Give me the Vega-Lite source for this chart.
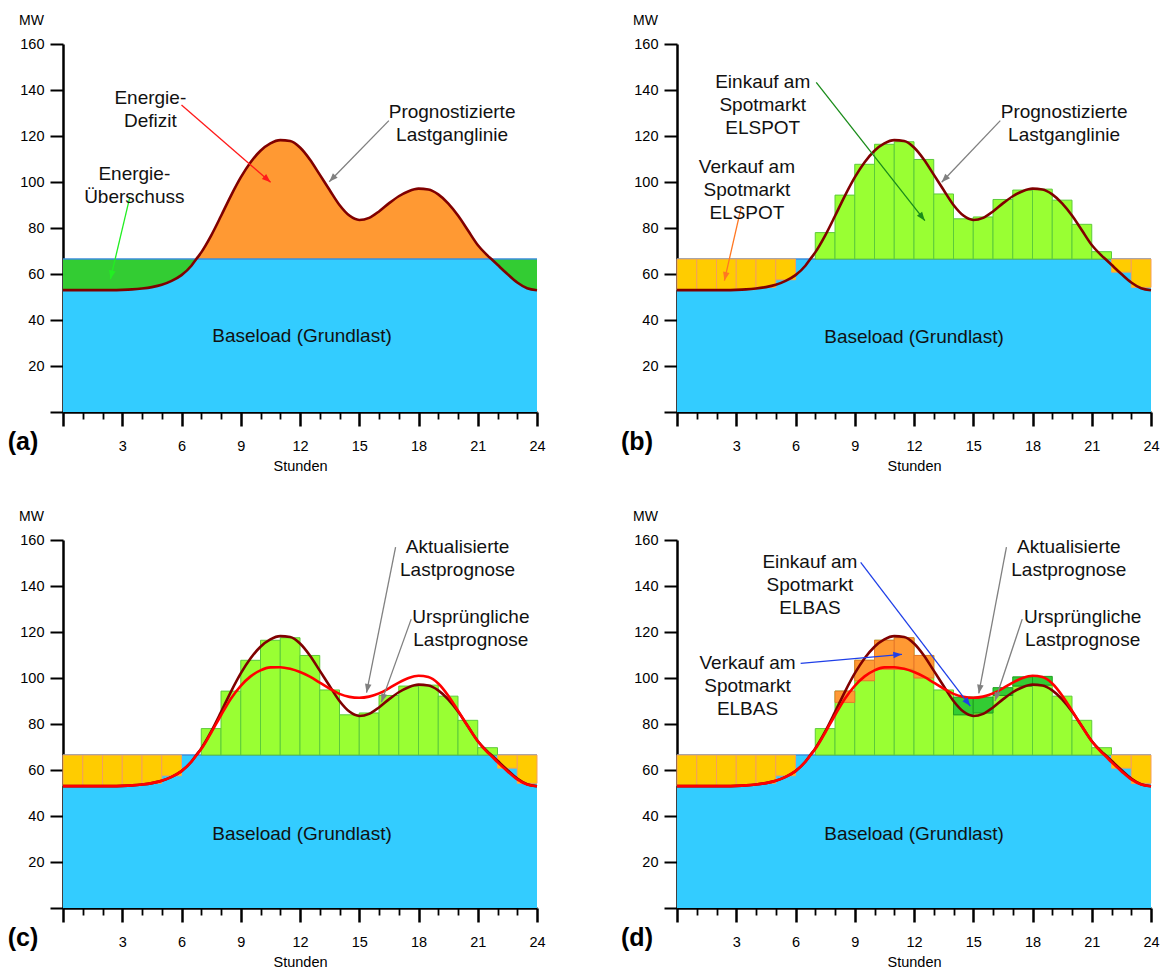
{
  "$schema": "https://vega.github.io/schema/vega-lite/v6.json",
  "padding": {"left": 7, "top": 13, "right": 2, "bottom": 2},
  "background": "white",
  "config": {
    "view": {"stroke": null},
    "font": "Liberation Sans",
    "axis": {"domainColor": "#000", "domainWidth": 2.5, "tickColor": "#000", "labelColor": "#000", "titleColor": "#000", "labelFont": "Liberation Sans", "titleFont": "Liberation Sans", "labelFontSize": 14.5, "titleFontSize": 14.5, "titleFontWeight": "normal", "labelFlush": false, "labelOverlap": false, "labelBound": false, "zindex": 1, "grid": false},
    "axisX": {"labelPadding": 13, "titlePadding": 7},
    "axisY": {"labelPadding": 6, "tickSize": 13, "tickWidth": 2, "titleAngle": 0, "titleX": -32, "titleY": -24, "titleAlign": "center", "titleBaseline": "middle", "titleFontSize": 14}
  },
  "datasets": {
    "base": [{"x0": 0, "x1": 24, "level": 66.5}],
    "curve": [
      {"h": 0, "orig": 53, "upd": 53}, {"h": 0.5, "orig": 53, "upd": 53}, {"h": 1, "orig": 53, "upd": 53}, {"h": 1.5, "orig": 53, "upd": 53},
      {"h": 2, "orig": 53, "upd": 53}, {"h": 2.5, "orig": 53, "upd": 53}, {"h": 3, "orig": 53.1, "upd": 53.1}, {"h": 3.5, "orig": 53.3, "upd": 53.3},
      {"h": 4, "orig": 53.7, "upd": 53.7}, {"h": 4.5, "orig": 54.3, "upd": 54.3}, {"h": 5, "orig": 55.3, "upd": 55.3}, {"h": 5.5, "orig": 57, "upd": 57},
      {"h": 6, "orig": 59.5, "upd": 59.5}, {"h": 6.5, "orig": 63.6, "upd": 63.6}, {"h": 6.75, "orig": 66.5, "upd": 66.3}, {"h": 7, "orig": 69.4, "upd": 69.1},
      {"h": 7.5, "orig": 76.7, "upd": 76.2}, {"h": 8, "orig": 85.2, "upd": 83.8}, {"h": 8.5, "orig": 94, "upd": 91}, {"h": 9, "orig": 102, "upd": 96.6},
      {"h": 9.5, "orig": 108.6, "upd": 100.7}, {"h": 10, "orig": 113.6, "upd": 103.3}, {"h": 10.5, "orig": 116.8, "upd": 104.6}, {"h": 11, "orig": 118.2, "upd": 104.7},
      {"h": 11.5, "orig": 117.8, "upd": 104}, {"h": 12, "orig": 115, "upd": 102.6}, {"h": 12.5, "orig": 109.8, "upd": 100.6}, {"h": 13, "orig": 103.2, "upd": 98},
      {"h": 13.5, "orig": 96.5, "upd": 95.4}, {"h": 14, "orig": 90, "upd": 93.1}, {"h": 14.5, "orig": 85.4, "upd": 91.8}, {"h": 15, "orig": 83.5, "upd": 91.4},
      {"h": 15.5, "orig": 84.4, "upd": 91.9}, {"h": 16, "orig": 87.2, "upd": 93.3}, {"h": 16.5, "orig": 90.7, "upd": 95.5}, {"h": 17, "orig": 93.8, "upd": 98},
      {"h": 17.5, "orig": 96, "upd": 100}, {"h": 18, "orig": 97.1, "upd": 101}, {"h": 18.5, "orig": 96.7, "upd": 100.4}, {"h": 19, "orig": 94.6, "upd": 97.6},
      {"h": 19.5, "orig": 90.7, "upd": 92.4}, {"h": 20, "orig": 85.4, "upd": 85.8}, {"h": 20.5, "orig": 79, "upd": 79}, {"h": 21, "orig": 72.6, "upd": 72.5},
      {"h": 21.5, "orig": 68, "upd": 67.6}, {"h": 21.69, "orig": 66.5, "upd": 66.1}, {"h": 22, "orig": 64, "upd": 63.4}, {"h": 22.5, "orig": 60, "upd": 59.5},
      {"h": 23, "orig": 56.3, "upd": 55.9}, {"h": 23.5, "orig": 53.8, "upd": 53.7}, {"h": 24, "orig": 52.9, "upd": 52.9}
    ],
    "hourly": [
      {"h": 0, "h1": 1, "orig": 53, "upd": 53}, {"h": 1, "h1": 2, "orig": 53, "upd": 53}, {"h": 2, "h1": 3, "orig": 53, "upd": 53},
      {"h": 3, "h1": 4, "orig": 53.2, "upd": 53.2}, {"h": 4, "h1": 5, "orig": 54.2, "upd": 54.2}, {"h": 5, "h1": 6, "orig": 57.5, "upd": 57.5},
      {"h": 6, "h1": 7, "orig": 66.5, "upd": 66.5}, {"h": 7, "h1": 8, "orig": 78, "upd": 78}, {"h": 8, "h1": 9, "orig": 94.3, "upd": 89.4},
      {"h": 9, "h1": 10, "orig": 107.7, "upd": 98.8}, {"h": 10, "h1": 11, "orig": 116.4, "upd": 103.8}, {"h": 11, "h1": 12, "orig": 117.5, "upd": 103.8},
      {"h": 12, "h1": 13, "orig": 109.8, "upd": 100}, {"h": 13, "h1": 14, "orig": 94.8, "upd": 94.8}, {"h": 14, "h1": 15, "orig": 84, "upd": 91.7},
      {"h": 15, "h1": 16, "orig": 84.8, "upd": 91.7}, {"h": 16, "h1": 17, "orig": 92.4, "upd": 95.8}, {"h": 17, "h1": 18, "orig": 96.5, "upd": 100.5},
      {"h": 18, "h1": 19, "orig": 96.9, "upd": 100.7}, {"h": 19, "h1": 20, "orig": 92.1, "upd": 92.1}, {"h": 20, "h1": 21, "orig": 81.6, "upd": 81.6},
      {"h": 21, "h1": 22, "orig": 69.7, "upd": 69.7}, {"h": 22, "h1": 23, "orig": 60.8, "upd": 60.8}, {"h": 23, "h1": 24, "orig": 54.2, "upd": 54.2}
    ],
    "notes": [
      {"panel": "a", "h": 4.42, "v": 136.7, "text": "Energie-\nDefizit"},
      {"panel": "a", "h": 3.61, "v": 103.5, "text": "Energie-\nÜberschuss"},
      {"panel": "a", "h": 19.7, "v": 130.3, "text": "Prognostizierte\nLastganglinie"},
      {"panel": "a", "h": 12.1, "v": 33.2, "text": "Baseload (Grundlast)"},
      {"panel": "b", "h": 4.34, "v": 143.3, "text": "Einkauf am\nSpotmarkt\nELSPOT"},
      {"panel": "b", "h": 3.54, "v": 106.4, "text": "Verkauf am\nSpotmarkt\nELSPOT"},
      {"panel": "b", "h": 19.6, "v": 130.3, "text": "Prognostizierte\nLastganglinie"},
      {"panel": "b", "h": 12, "v": 32.5, "text": "Baseload (Grundlast)"},
      {"panel": "c", "h": 19.98, "v": 157, "text": "Aktualisierte\nLastprognose"},
      {"panel": "c", "h": 20.65, "v": 126.5, "text": "Ursprüngliche\nLastprognose"},
      {"panel": "c", "h": 12.1, "v": 32.3, "text": "Baseload (Grundlast)"},
      {"panel": "d", "h": 6.73, "v": 150.3, "text": "Einkauf am\nSpotmarkt\nELBAS"},
      {"panel": "d", "h": 3.57, "v": 106.4, "text": "Verkauf am\nSpotmarkt\nELBAS"},
      {"panel": "d", "h": 19.84, "v": 157, "text": "Aktualisierte\nLastprognose"},
      {"panel": "d", "h": 20.54, "v": 126.5, "text": "Ursprüngliche\nLastprognose"},
      {"panel": "d", "h": 12, "v": 32.3, "text": "Baseload (Grundlast)"}
    ],
    "arrows": [
      {"panel": "a", "kind": "Defizit", "h1": 6.0, "v1": 133.5, "h2": 10.51, "v2": 99.9},
      {"panel": "a", "kind": "Überschuss", "h1": 3.38, "v1": 93.3, "h2": 2.4, "v2": 57.8},
      {"panel": "a", "kind": "Prognose", "h1": 16.5, "v1": 126.7, "h2": 13.48, "v2": 100.1},
      {"panel": "b", "kind": "Einkauf", "h1": 7.05, "v1": 143.3, "h2": 12.55, "v2": 83.2},
      {"panel": "b", "kind": "Verkauf", "h1": 3.25, "v1": 89, "h2": 2.4, "v2": 57.1},
      {"panel": "b", "kind": "Prognose", "h1": 16.37, "v1": 126.7, "h2": 13.4, "v2": 99.9},
      {"panel": "c", "kind": "Prognose", "h1": 16.84, "v1": 156.9, "h2": 15.37, "v2": 93.6},
      {"panel": "c", "kind": "Prognose", "h1": 17.63, "v1": 125.6, "h2": 16.12, "v2": 89.5},
      {"panel": "d", "kind": "ELBAS", "h1": 9.3, "v1": 150.3, "h2": 14.85, "v2": 87.8},
      {"panel": "d", "kind": "ELBAS", "h1": 6.26, "v1": 106.4, "h2": 11.39, "v2": 110.3},
      {"panel": "d", "kind": "Prognose", "h1": 16.68, "v1": 156.9, "h2": 15.28, "v2": 93.3},
      {"panel": "d", "kind": "Prognose", "h1": 17.48, "v1": 125.6, "h2": 16.1, "v2": 90}
    ]
  },
  "columns": 2,
  "spacing": {"row": 128, "column": 140},
  "bounds": "flush",
  "concat": [
    {
      "width": 474, "height": 368,
      "layer": [
        {"data": {"name": "base"}, "mark": {"type": "rect", "fill": "#33CCFF"},
         "encoding": {
           "x": {"field": "x0", "type": "quantitative", "scale": {"domain": [0, 24], "nice": false, "zero": false}, "axis": {"values": [0,1,2,3,4,5,6,7,8,9,10,11,12,13,14,15,16,17,18,19,20,21,22,23,24], "tickCount": 25, "title": "Stunden", "labelOverlap": false, "labelOpacity": {"condition": {"test": "datum.value % 3 === 0 && datum.value > 0", "value": 1}, "value": 0}, "tickSize": {"condition": {"test": "datum.value % 3 === 0", "value": 14}, "value": 7}, "tickWidth": {"condition": {"test": "datum.value % 3 === 0", "value": 2.5}, "value": 1.8}}},
           "x2": {"field": "x1"},
           "y": {"field": "level", "type": "quantitative", "scale": {"domain": [0, 160], "nice": false}, "axis": {"values": [0,20,40,60,80,100,120,140,160], "tickCount": 10, "title": "MW", "labelOverlap": false, "labelOpacity": {"condition": {"test": "datum.value > 0", "value": 1}, "value": 0}}},
           "y2": {"datum": 0}}},
        {"data": {"name": "curve"}, "transform": [{"filter": "datum.h <= 6.75"}], "mark": {"type": "area", "fill": "#33CC33", "interpolate": "monotone"},
         "encoding": {"x": {"field": "h", "type": "quantitative", "scale": {"domain": [0, 24], "nice": false, "zero": false}, "axis": {"values": [0,1,2,3,4,5,6,7,8,9,10,11,12,13,14,15,16,17,18,19,20,21,22,23,24], "tickCount": 25, "title": "Stunden", "labelOverlap": false, "labelOpacity": {"condition": {"test": "datum.value % 3 === 0 && datum.value > 0", "value": 1}, "value": 0}, "tickSize": {"condition": {"test": "datum.value % 3 === 0", "value": 14}, "value": 7}, "tickWidth": {"condition": {"test": "datum.value % 3 === 0", "value": 2.5}, "value": 1.8}}},
                      "y": {"field": "orig", "type": "quantitative", "scale": {"domain": [0, 160], "nice": false}, "axis": {"values": [0,20,40,60,80,100,120,140,160], "tickCount": 10, "title": "MW", "labelOverlap": false, "labelOpacity": {"condition": {"test": "datum.value > 0", "value": 1}, "value": 0}}}, "y2": {"datum": 66.5}}},
        {"data": {"name": "curve"}, "transform": [{"filter": "datum.h >= 21.69"}], "mark": {"type": "area", "fill": "#33CC33", "interpolate": "monotone"},
         "encoding": {"x": {"field": "h", "type": "quantitative", "scale": {"domain": [0, 24], "nice": false, "zero": false}, "axis": {"values": [0,1,2,3,4,5,6,7,8,9,10,11,12,13,14,15,16,17,18,19,20,21,22,23,24], "tickCount": 25, "title": "Stunden", "labelOverlap": false, "labelOpacity": {"condition": {"test": "datum.value % 3 === 0 && datum.value > 0", "value": 1}, "value": 0}, "tickSize": {"condition": {"test": "datum.value % 3 === 0", "value": 14}, "value": 7}, "tickWidth": {"condition": {"test": "datum.value % 3 === 0", "value": 2.5}, "value": 1.8}}},
                      "y": {"field": "orig", "type": "quantitative", "scale": {"domain": [0, 160], "nice": false}, "axis": {"values": [0,20,40,60,80,100,120,140,160], "tickCount": 10, "title": "MW", "labelOverlap": false, "labelOpacity": {"condition": {"test": "datum.value > 0", "value": 1}, "value": 0}}}, "y2": {"datum": 66.5}}},
        {"data": {"name": "curve"}, "transform": [{"filter": "datum.h >= 6.75 && datum.h <= 21.69"}], "mark": {"type": "area", "fill": "#FF9933", "interpolate": "monotone"},
         "encoding": {"x": {"field": "h", "type": "quantitative", "scale": {"domain": [0, 24], "nice": false, "zero": false}, "axis": {"values": [0,1,2,3,4,5,6,7,8,9,10,11,12,13,14,15,16,17,18,19,20,21,22,23,24], "tickCount": 25, "title": "Stunden", "labelOverlap": false, "labelOpacity": {"condition": {"test": "datum.value % 3 === 0 && datum.value > 0", "value": 1}, "value": 0}, "tickSize": {"condition": {"test": "datum.value % 3 === 0", "value": 14}, "value": 7}, "tickWidth": {"condition": {"test": "datum.value % 3 === 0", "value": 2.5}, "value": 1.8}}},
                      "y": {"field": "orig", "type": "quantitative", "scale": {"domain": [0, 160], "nice": false}, "axis": {"values": [0,20,40,60,80,100,120,140,160], "tickCount": 10, "title": "MW", "labelOverlap": false, "labelOpacity": {"condition": {"test": "datum.value > 0", "value": 1}, "value": 0}}}, "y2": {"datum": 66.5}}},
        {"data": {"name": "base"}, "mark": {"type": "rule", "color": "#3D8EDB", "strokeWidth": 1.5},
         "encoding": {"x": {"field": "x0", "type": "quantitative", "scale": {"domain": [0, 24], "nice": false, "zero": false}, "axis": {"values": [0,1,2,3,4,5,6,7,8,9,10,11,12,13,14,15,16,17,18,19,20,21,22,23,24], "tickCount": 25, "title": "Stunden", "labelOverlap": false, "labelOpacity": {"condition": {"test": "datum.value % 3 === 0 && datum.value > 0", "value": 1}, "value": 0}, "tickSize": {"condition": {"test": "datum.value % 3 === 0", "value": 14}, "value": 7}, "tickWidth": {"condition": {"test": "datum.value % 3 === 0", "value": 2.5}, "value": 1.8}}}, "x2": {"field": "x1"},
                      "y": {"field": "level", "type": "quantitative", "scale": {"domain": [0, 160], "nice": false}, "axis": {"values": [0,20,40,60,80,100,120,140,160], "tickCount": 10, "title": "MW", "labelOverlap": false, "labelOpacity": {"condition": {"test": "datum.value > 0", "value": 1}, "value": 0}}}}},
        {"data": {"name": "curve"}, "mark": {"type": "line", "color": "#800000", "strokeWidth": 2.6, "interpolate": "monotone"},
         "encoding": {"x": {"field": "h", "type": "quantitative", "scale": {"domain": [0, 24], "nice": false, "zero": false}, "axis": {"values": [0,1,2,3,4,5,6,7,8,9,10,11,12,13,14,15,16,17,18,19,20,21,22,23,24], "tickCount": 25, "title": "Stunden", "labelOverlap": false, "labelOpacity": {"condition": {"test": "datum.value % 3 === 0 && datum.value > 0", "value": 1}, "value": 0}, "tickSize": {"condition": {"test": "datum.value % 3 === 0", "value": 14}, "value": 7}, "tickWidth": {"condition": {"test": "datum.value % 3 === 0", "value": 2.5}, "value": 1.8}}},
                      "y": {"field": "orig", "type": "quantitative", "scale": {"domain": [0, 160], "nice": false}, "axis": {"values": [0,20,40,60,80,100,120,140,160], "tickCount": 10, "title": "MW", "labelOverlap": false, "labelOpacity": {"condition": {"test": "datum.value > 0", "value": 1}, "value": 0}}}}},
        {"data": {"name": "arrows"}, "transform": [{"filter": "datum.panel === 'a'"}], "mark": {"type": "rule", "strokeWidth": 1.3},
         "encoding": {"x": {"field": "h1", "type": "quantitative", "scale": {"domain": [0, 24], "nice": false, "zero": false}, "axis": {"values": [0,1,2,3,4,5,6,7,8,9,10,11,12,13,14,15,16,17,18,19,20,21,22,23,24], "tickCount": 25, "title": "Stunden", "labelOverlap": false, "labelOpacity": {"condition": {"test": "datum.value % 3 === 0 && datum.value > 0", "value": 1}, "value": 0}, "tickSize": {"condition": {"test": "datum.value % 3 === 0", "value": 14}, "value": 7}, "tickWidth": {"condition": {"test": "datum.value % 3 === 0", "value": 2.5}, "value": 1.8}}}, "x2": {"field": "h2"},
                      "y": {"field": "v1", "type": "quantitative", "scale": {"domain": [0, 160], "nice": false}, "axis": {"values": [0,20,40,60,80,100,120,140,160], "tickCount": 10, "title": "MW", "labelOverlap": false, "labelOpacity": {"condition": {"test": "datum.value > 0", "value": 1}, "value": 0}}}, "y2": {"field": "v2"},
                      "color": {"field": "kind", "type": "nominal", "legend": null, "scale": {"domain": ["Defizit", "Überschuss", "Prognose", "Einkauf", "Verkauf", "ELBAS"], "range": ["#FF1A1A", "#22EE22", "#808080", "#1A8C1A", "#FF7722", "#1F3FE8"]}}}},
        {"data": {"name": "arrows"}, "transform": [{"filter": "datum.panel === 'a'"}, {"calculate": "atan2((datum.h2 - datum.h1) * 19.75, (datum.v2 - datum.v1) * 2.3) * 180 / PI", "as": "angle"}],
         "mark": {"type": "point", "shape": "M0,0L-0.38,1L0.38,1Z", "filled": true, "size": 300, "opacity": 1},
         "encoding": {"x": {"field": "h2", "type": "quantitative", "scale": {"domain": [0, 24], "nice": false, "zero": false}, "axis": {"values": [0,1,2,3,4,5,6,7,8,9,10,11,12,13,14,15,16,17,18,19,20,21,22,23,24], "tickCount": 25, "title": "Stunden", "labelOverlap": false, "labelOpacity": {"condition": {"test": "datum.value % 3 === 0 && datum.value > 0", "value": 1}, "value": 0}, "tickSize": {"condition": {"test": "datum.value % 3 === 0", "value": 14}, "value": 7}, "tickWidth": {"condition": {"test": "datum.value % 3 === 0", "value": 2.5}, "value": 1.8}}},
                      "y": {"field": "v2", "type": "quantitative", "scale": {"domain": [0, 160], "nice": false}, "axis": {"values": [0,20,40,60,80,100,120,140,160], "tickCount": 10, "title": "MW", "labelOverlap": false, "labelOpacity": {"condition": {"test": "datum.value > 0", "value": 1}, "value": 0}}},
                      "angle": {"field": "angle", "type": "quantitative", "scale": null},
                      "color": {"field": "kind", "type": "nominal", "legend": null, "scale": {"domain": ["Defizit", "Überschuss", "Prognose", "Einkauf", "Verkauf", "ELBAS"], "range": ["#FF1A1A", "#22EE22", "#808080", "#1A8C1A", "#FF7722", "#1F3FE8"]}}}},
        {"data": {"name": "notes"}, "transform": [{"filter": "datum.panel === 'a'"}],
         "mark": {"type": "text", "font": "Liberation Sans", "fontSize": 19, "lineHeight": 23, "lineBreak": "\n", "align": "center", "baseline": "middle", "color": "#111"},
         "encoding": {"x": {"field": "h", "type": "quantitative", "scale": {"domain": [0, 24], "nice": false, "zero": false}, "axis": {"values": [0,1,2,3,4,5,6,7,8,9,10,11,12,13,14,15,16,17,18,19,20,21,22,23,24], "tickCount": 25, "title": "Stunden", "labelOverlap": false, "labelOpacity": {"condition": {"test": "datum.value % 3 === 0 && datum.value > 0", "value": 1}, "value": 0}, "tickSize": {"condition": {"test": "datum.value % 3 === 0", "value": 14}, "value": 7}, "tickWidth": {"condition": {"test": "datum.value % 3 === 0", "value": 2.5}, "value": 1.8}}},
                      "y": {"field": "v", "type": "quantitative", "scale": {"domain": [0, 160], "nice": false}, "axis": {"values": [0,20,40,60,80,100,120,140,160], "tickCount": 10, "title": "MW", "labelOverlap": false, "labelOpacity": {"condition": {"test": "datum.value > 0", "value": 1}, "value": 0}}}, "text": {"field": "text"}}},
        {"data": {"values": [{"label": "(a)"}]},
         "mark": {"type": "text", "font": "Liberation Sans", "fontSize": 25, "fontWeight": "bold", "dx": -40, "dy": 30, "align": "center", "baseline": "middle", "color": "#000"},
         "encoding": {"x": {"datum": 0, "type": "quantitative", "scale": {"domain": [0, 24], "nice": false, "zero": false}, "axis": {"values": [0,1,2,3,4,5,6,7,8,9,10,11,12,13,14,15,16,17,18,19,20,21,22,23,24], "tickCount": 25, "title": "Stunden", "labelOverlap": false, "labelOpacity": {"condition": {"test": "datum.value % 3 === 0 && datum.value > 0", "value": 1}, "value": 0}, "tickSize": {"condition": {"test": "datum.value % 3 === 0", "value": 14}, "value": 7}, "tickWidth": {"condition": {"test": "datum.value % 3 === 0", "value": 2.5}, "value": 1.8}}},
                      "y": {"datum": 0, "type": "quantitative", "scale": {"domain": [0, 160], "nice": false}, "axis": {"values": [0,20,40,60,80,100,120,140,160], "tickCount": 10, "title": "MW", "labelOverlap": false, "labelOpacity": {"condition": {"test": "datum.value > 0", "value": 1}, "value": 0}}}, "text": {"field": "label"}}}
      ]
    },
    {
      "width": 474, "height": 368,
      "layer": [
        {"data": {"name": "base"}, "mark": {"type": "rect", "fill": "#33CCFF"},
         "encoding": {
           "x": {"field": "x0", "type": "quantitative", "scale": {"domain": [0, 24], "nice": false, "zero": false}, "axis": {"values": [0,1,2,3,4,5,6,7,8,9,10,11,12,13,14,15,16,17,18,19,20,21,22,23,24], "tickCount": 25, "title": "Stunden", "labelOverlap": false, "labelOpacity": {"condition": {"test": "datum.value % 3 === 0 && datum.value > 0", "value": 1}, "value": 0}, "tickSize": {"condition": {"test": "datum.value % 3 === 0", "value": 14}, "value": 7}, "tickWidth": {"condition": {"test": "datum.value % 3 === 0", "value": 2.5}, "value": 1.8}}},
           "x2": {"field": "x1"},
           "y": {"field": "level", "type": "quantitative", "scale": {"domain": [0, 160], "nice": false}, "axis": {"values": [0,20,40,60,80,100,120,140,160], "tickCount": 10, "title": "MW", "labelOverlap": false, "labelOpacity": {"condition": {"test": "datum.value > 0", "value": 1}, "value": 0}}},
           "y2": {"datum": 0}}},
        {"data": {"name": "base"}, "mark": {"type": "rule", "color": "#3D8EDB", "strokeWidth": 1.5},
         "encoding": {"x": {"field": "x0", "type": "quantitative", "scale": {"domain": [0, 24], "nice": false, "zero": false}, "axis": {"values": [0,1,2,3,4,5,6,7,8,9,10,11,12,13,14,15,16,17,18,19,20,21,22,23,24], "tickCount": 25, "title": "Stunden", "labelOverlap": false, "labelOpacity": {"condition": {"test": "datum.value % 3 === 0 && datum.value > 0", "value": 1}, "value": 0}, "tickSize": {"condition": {"test": "datum.value % 3 === 0", "value": 14}, "value": 7}, "tickWidth": {"condition": {"test": "datum.value % 3 === 0", "value": 2.5}, "value": 1.8}}}, "x2": {"field": "x1"},
                      "y": {"field": "level", "type": "quantitative", "scale": {"domain": [0, 160], "nice": false}, "axis": {"values": [0,20,40,60,80,100,120,140,160], "tickCount": 10, "title": "MW", "labelOverlap": false, "labelOpacity": {"condition": {"test": "datum.value > 0", "value": 1}, "value": 0}}}}},
        {"data": {"name": "hourly"}, "transform": [{"filter": "datum.orig !== 66.5"}], "mark": {"type": "rect", "strokeWidth": 1},
         "encoding": {"x": {"field": "h", "type": "quantitative", "scale": {"domain": [0, 24], "nice": false, "zero": false}, "axis": {"values": [0,1,2,3,4,5,6,7,8,9,10,11,12,13,14,15,16,17,18,19,20,21,22,23,24], "tickCount": 25, "title": "Stunden", "labelOverlap": false, "labelOpacity": {"condition": {"test": "datum.value % 3 === 0 && datum.value > 0", "value": 1}, "value": 0}, "tickSize": {"condition": {"test": "datum.value % 3 === 0", "value": 14}, "value": 7}, "tickWidth": {"condition": {"test": "datum.value % 3 === 0", "value": 2.5}, "value": 1.8}}}, "x2": {"field": "h1"},
                      "y": {"field": "orig", "type": "quantitative", "scale": {"domain": [0, 160], "nice": false}, "axis": {"values": [0,20,40,60,80,100,120,140,160], "tickCount": 10, "title": "MW", "labelOverlap": false, "labelOpacity": {"condition": {"test": "datum.value > 0", "value": 1}, "value": 0}}}, "y2": {"datum": 66.5},
                      "fill": {"condition": {"test": "datum.orig < 66.5", "value": "#FFCC00"}, "value": "#99FF33"},
                      "stroke": {"condition": {"test": "datum.orig < 66.5", "value": "#F5A05A"}, "value": "#5CCB3A"}}},
        {"data": {"name": "curve"}, "mark": {"type": "line", "color": "#800000", "strokeWidth": 2.6, "interpolate": "monotone"},
         "encoding": {"x": {"field": "h", "type": "quantitative", "scale": {"domain": [0, 24], "nice": false, "zero": false}, "axis": {"values": [0,1,2,3,4,5,6,7,8,9,10,11,12,13,14,15,16,17,18,19,20,21,22,23,24], "tickCount": 25, "title": "Stunden", "labelOverlap": false, "labelOpacity": {"condition": {"test": "datum.value % 3 === 0 && datum.value > 0", "value": 1}, "value": 0}, "tickSize": {"condition": {"test": "datum.value % 3 === 0", "value": 14}, "value": 7}, "tickWidth": {"condition": {"test": "datum.value % 3 === 0", "value": 2.5}, "value": 1.8}}},
                      "y": {"field": "orig", "type": "quantitative", "scale": {"domain": [0, 160], "nice": false}, "axis": {"values": [0,20,40,60,80,100,120,140,160], "tickCount": 10, "title": "MW", "labelOverlap": false, "labelOpacity": {"condition": {"test": "datum.value > 0", "value": 1}, "value": 0}}}}},
        {"data": {"name": "arrows"}, "transform": [{"filter": "datum.panel === 'b'"}], "mark": {"type": "rule", "strokeWidth": 1.3},
         "encoding": {"x": {"field": "h1", "type": "quantitative", "scale": {"domain": [0, 24], "nice": false, "zero": false}, "axis": {"values": [0,1,2,3,4,5,6,7,8,9,10,11,12,13,14,15,16,17,18,19,20,21,22,23,24], "tickCount": 25, "title": "Stunden", "labelOverlap": false, "labelOpacity": {"condition": {"test": "datum.value % 3 === 0 && datum.value > 0", "value": 1}, "value": 0}, "tickSize": {"condition": {"test": "datum.value % 3 === 0", "value": 14}, "value": 7}, "tickWidth": {"condition": {"test": "datum.value % 3 === 0", "value": 2.5}, "value": 1.8}}}, "x2": {"field": "h2"},
                      "y": {"field": "v1", "type": "quantitative", "scale": {"domain": [0, 160], "nice": false}, "axis": {"values": [0,20,40,60,80,100,120,140,160], "tickCount": 10, "title": "MW", "labelOverlap": false, "labelOpacity": {"condition": {"test": "datum.value > 0", "value": 1}, "value": 0}}}, "y2": {"field": "v2"},
                      "color": {"field": "kind", "type": "nominal", "legend": null, "scale": {"domain": ["Defizit", "Überschuss", "Prognose", "Einkauf", "Verkauf", "ELBAS"], "range": ["#FF1A1A", "#22EE22", "#808080", "#1A8C1A", "#FF7722", "#1F3FE8"]}}}},
        {"data": {"name": "arrows"}, "transform": [{"filter": "datum.panel === 'b'"}, {"calculate": "atan2((datum.h2 - datum.h1) * 19.75, (datum.v2 - datum.v1) * 2.3) * 180 / PI", "as": "angle"}],
         "mark": {"type": "point", "shape": "M0,0L-0.38,1L0.38,1Z", "filled": true, "size": 300, "opacity": 1},
         "encoding": {"x": {"field": "h2", "type": "quantitative", "scale": {"domain": [0, 24], "nice": false, "zero": false}, "axis": {"values": [0,1,2,3,4,5,6,7,8,9,10,11,12,13,14,15,16,17,18,19,20,21,22,23,24], "tickCount": 25, "title": "Stunden", "labelOverlap": false, "labelOpacity": {"condition": {"test": "datum.value % 3 === 0 && datum.value > 0", "value": 1}, "value": 0}, "tickSize": {"condition": {"test": "datum.value % 3 === 0", "value": 14}, "value": 7}, "tickWidth": {"condition": {"test": "datum.value % 3 === 0", "value": 2.5}, "value": 1.8}}},
                      "y": {"field": "v2", "type": "quantitative", "scale": {"domain": [0, 160], "nice": false}, "axis": {"values": [0,20,40,60,80,100,120,140,160], "tickCount": 10, "title": "MW", "labelOverlap": false, "labelOpacity": {"condition": {"test": "datum.value > 0", "value": 1}, "value": 0}}},
                      "angle": {"field": "angle", "type": "quantitative", "scale": null},
                      "color": {"field": "kind", "type": "nominal", "legend": null, "scale": {"domain": ["Defizit", "Überschuss", "Prognose", "Einkauf", "Verkauf", "ELBAS"], "range": ["#FF1A1A", "#22EE22", "#808080", "#1A8C1A", "#FF7722", "#1F3FE8"]}}}},
        {"data": {"name": "notes"}, "transform": [{"filter": "datum.panel === 'b'"}],
         "mark": {"type": "text", "font": "Liberation Sans", "fontSize": 19, "lineHeight": 23, "lineBreak": "\n", "align": "center", "baseline": "middle", "color": "#111"},
         "encoding": {"x": {"field": "h", "type": "quantitative", "scale": {"domain": [0, 24], "nice": false, "zero": false}, "axis": {"values": [0,1,2,3,4,5,6,7,8,9,10,11,12,13,14,15,16,17,18,19,20,21,22,23,24], "tickCount": 25, "title": "Stunden", "labelOverlap": false, "labelOpacity": {"condition": {"test": "datum.value % 3 === 0 && datum.value > 0", "value": 1}, "value": 0}, "tickSize": {"condition": {"test": "datum.value % 3 === 0", "value": 14}, "value": 7}, "tickWidth": {"condition": {"test": "datum.value % 3 === 0", "value": 2.5}, "value": 1.8}}},
                      "y": {"field": "v", "type": "quantitative", "scale": {"domain": [0, 160], "nice": false}, "axis": {"values": [0,20,40,60,80,100,120,140,160], "tickCount": 10, "title": "MW", "labelOverlap": false, "labelOpacity": {"condition": {"test": "datum.value > 0", "value": 1}, "value": 0}}}, "text": {"field": "text"}}},
        {"data": {"values": [{"label": "(b)"}]},
         "mark": {"type": "text", "font": "Liberation Sans", "fontSize": 25, "fontWeight": "bold", "dx": -40, "dy": 30, "align": "center", "baseline": "middle", "color": "#000"},
         "encoding": {"x": {"datum": 0, "type": "quantitative", "scale": {"domain": [0, 24], "nice": false, "zero": false}, "axis": {"values": [0,1,2,3,4,5,6,7,8,9,10,11,12,13,14,15,16,17,18,19,20,21,22,23,24], "tickCount": 25, "title": "Stunden", "labelOverlap": false, "labelOpacity": {"condition": {"test": "datum.value % 3 === 0 && datum.value > 0", "value": 1}, "value": 0}, "tickSize": {"condition": {"test": "datum.value % 3 === 0", "value": 14}, "value": 7}, "tickWidth": {"condition": {"test": "datum.value % 3 === 0", "value": 2.5}, "value": 1.8}}},
                      "y": {"datum": 0, "type": "quantitative", "scale": {"domain": [0, 160], "nice": false}, "axis": {"values": [0,20,40,60,80,100,120,140,160], "tickCount": 10, "title": "MW", "labelOverlap": false, "labelOpacity": {"condition": {"test": "datum.value > 0", "value": 1}, "value": 0}}}, "text": {"field": "label"}}}
      ]
    },
    {
      "width": 474, "height": 368,
      "layer": [
        {"data": {"name": "base"}, "mark": {"type": "rect", "fill": "#33CCFF"},
         "encoding": {
           "x": {"field": "x0", "type": "quantitative", "scale": {"domain": [0, 24], "nice": false, "zero": false}, "axis": {"values": [0,1,2,3,4,5,6,7,8,9,10,11,12,13,14,15,16,17,18,19,20,21,22,23,24], "tickCount": 25, "title": "Stunden", "labelOverlap": false, "labelOpacity": {"condition": {"test": "datum.value % 3 === 0 && datum.value > 0", "value": 1}, "value": 0}, "tickSize": {"condition": {"test": "datum.value % 3 === 0", "value": 14}, "value": 7}, "tickWidth": {"condition": {"test": "datum.value % 3 === 0", "value": 2.5}, "value": 1.8}}},
           "x2": {"field": "x1"},
           "y": {"field": "level", "type": "quantitative", "scale": {"domain": [0, 160], "nice": false}, "axis": {"values": [0,20,40,60,80,100,120,140,160], "tickCount": 10, "title": "MW", "labelOverlap": false, "labelOpacity": {"condition": {"test": "datum.value > 0", "value": 1}, "value": 0}}},
           "y2": {"datum": 0}}},
        {"data": {"name": "base"}, "mark": {"type": "rule", "color": "#3D8EDB", "strokeWidth": 1.5},
         "encoding": {"x": {"field": "x0", "type": "quantitative", "scale": {"domain": [0, 24], "nice": false, "zero": false}, "axis": {"values": [0,1,2,3,4,5,6,7,8,9,10,11,12,13,14,15,16,17,18,19,20,21,22,23,24], "tickCount": 25, "title": "Stunden", "labelOverlap": false, "labelOpacity": {"condition": {"test": "datum.value % 3 === 0 && datum.value > 0", "value": 1}, "value": 0}, "tickSize": {"condition": {"test": "datum.value % 3 === 0", "value": 14}, "value": 7}, "tickWidth": {"condition": {"test": "datum.value % 3 === 0", "value": 2.5}, "value": 1.8}}}, "x2": {"field": "x1"},
                      "y": {"field": "level", "type": "quantitative", "scale": {"domain": [0, 160], "nice": false}, "axis": {"values": [0,20,40,60,80,100,120,140,160], "tickCount": 10, "title": "MW", "labelOverlap": false, "labelOpacity": {"condition": {"test": "datum.value > 0", "value": 1}, "value": 0}}}}},
        {"data": {"name": "hourly"}, "transform": [{"filter": "datum.orig !== 66.5"}], "mark": {"type": "rect", "strokeWidth": 1},
         "encoding": {"x": {"field": "h", "type": "quantitative", "scale": {"domain": [0, 24], "nice": false, "zero": false}, "axis": {"values": [0,1,2,3,4,5,6,7,8,9,10,11,12,13,14,15,16,17,18,19,20,21,22,23,24], "tickCount": 25, "title": "Stunden", "labelOverlap": false, "labelOpacity": {"condition": {"test": "datum.value % 3 === 0 && datum.value > 0", "value": 1}, "value": 0}, "tickSize": {"condition": {"test": "datum.value % 3 === 0", "value": 14}, "value": 7}, "tickWidth": {"condition": {"test": "datum.value % 3 === 0", "value": 2.5}, "value": 1.8}}}, "x2": {"field": "h1"},
                      "y": {"field": "orig", "type": "quantitative", "scale": {"domain": [0, 160], "nice": false}, "axis": {"values": [0,20,40,60,80,100,120,140,160], "tickCount": 10, "title": "MW", "labelOverlap": false, "labelOpacity": {"condition": {"test": "datum.value > 0", "value": 1}, "value": 0}}}, "y2": {"datum": 66.5},
                      "fill": {"condition": {"test": "datum.orig < 66.5", "value": "#FFCC00"}, "value": "#99FF33"},
                      "stroke": {"condition": {"test": "datum.orig < 66.5", "value": "#F5A05A"}, "value": "#5CCB3A"}}},
        {"data": {"name": "curve"}, "mark": {"type": "line", "color": "#800000", "strokeWidth": 2.6, "interpolate": "monotone"},
         "encoding": {"x": {"field": "h", "type": "quantitative", "scale": {"domain": [0, 24], "nice": false, "zero": false}, "axis": {"values": [0,1,2,3,4,5,6,7,8,9,10,11,12,13,14,15,16,17,18,19,20,21,22,23,24], "tickCount": 25, "title": "Stunden", "labelOverlap": false, "labelOpacity": {"condition": {"test": "datum.value % 3 === 0 && datum.value > 0", "value": 1}, "value": 0}, "tickSize": {"condition": {"test": "datum.value % 3 === 0", "value": 14}, "value": 7}, "tickWidth": {"condition": {"test": "datum.value % 3 === 0", "value": 2.5}, "value": 1.8}}},
                      "y": {"field": "orig", "type": "quantitative", "scale": {"domain": [0, 160], "nice": false}, "axis": {"values": [0,20,40,60,80,100,120,140,160], "tickCount": 10, "title": "MW", "labelOverlap": false, "labelOpacity": {"condition": {"test": "datum.value > 0", "value": 1}, "value": 0}}}}},
        {"data": {"name": "curve"}, "mark": {"type": "line", "color": "#FF0000", "strokeWidth": 2.6, "interpolate": "monotone"},
         "encoding": {"x": {"field": "h", "type": "quantitative", "scale": {"domain": [0, 24], "nice": false, "zero": false}, "axis": {"values": [0,1,2,3,4,5,6,7,8,9,10,11,12,13,14,15,16,17,18,19,20,21,22,23,24], "tickCount": 25, "title": "Stunden", "labelOverlap": false, "labelOpacity": {"condition": {"test": "datum.value % 3 === 0 && datum.value > 0", "value": 1}, "value": 0}, "tickSize": {"condition": {"test": "datum.value % 3 === 0", "value": 14}, "value": 7}, "tickWidth": {"condition": {"test": "datum.value % 3 === 0", "value": 2.5}, "value": 1.8}}},
                      "y": {"field": "upd", "type": "quantitative", "scale": {"domain": [0, 160], "nice": false}, "axis": {"values": [0,20,40,60,80,100,120,140,160], "tickCount": 10, "title": "MW", "labelOverlap": false, "labelOpacity": {"condition": {"test": "datum.value > 0", "value": 1}, "value": 0}}}}},
        {"data": {"name": "arrows"}, "transform": [{"filter": "datum.panel === 'c'"}], "mark": {"type": "rule", "strokeWidth": 1.3},
         "encoding": {"x": {"field": "h1", "type": "quantitative", "scale": {"domain": [0, 24], "nice": false, "zero": false}, "axis": {"values": [0,1,2,3,4,5,6,7,8,9,10,11,12,13,14,15,16,17,18,19,20,21,22,23,24], "tickCount": 25, "title": "Stunden", "labelOverlap": false, "labelOpacity": {"condition": {"test": "datum.value % 3 === 0 && datum.value > 0", "value": 1}, "value": 0}, "tickSize": {"condition": {"test": "datum.value % 3 === 0", "value": 14}, "value": 7}, "tickWidth": {"condition": {"test": "datum.value % 3 === 0", "value": 2.5}, "value": 1.8}}}, "x2": {"field": "h2"},
                      "y": {"field": "v1", "type": "quantitative", "scale": {"domain": [0, 160], "nice": false}, "axis": {"values": [0,20,40,60,80,100,120,140,160], "tickCount": 10, "title": "MW", "labelOverlap": false, "labelOpacity": {"condition": {"test": "datum.value > 0", "value": 1}, "value": 0}}}, "y2": {"field": "v2"},
                      "color": {"field": "kind", "type": "nominal", "legend": null, "scale": {"domain": ["Defizit", "Überschuss", "Prognose", "Einkauf", "Verkauf", "ELBAS"], "range": ["#FF1A1A", "#22EE22", "#808080", "#1A8C1A", "#FF7722", "#1F3FE8"]}}}},
        {"data": {"name": "arrows"}, "transform": [{"filter": "datum.panel === 'c'"}, {"calculate": "atan2((datum.h2 - datum.h1) * 19.75, (datum.v2 - datum.v1) * 2.3) * 180 / PI", "as": "angle"}],
         "mark": {"type": "point", "shape": "M0,0L-0.38,1L0.38,1Z", "filled": true, "size": 300, "opacity": 1},
         "encoding": {"x": {"field": "h2", "type": "quantitative", "scale": {"domain": [0, 24], "nice": false, "zero": false}, "axis": {"values": [0,1,2,3,4,5,6,7,8,9,10,11,12,13,14,15,16,17,18,19,20,21,22,23,24], "tickCount": 25, "title": "Stunden", "labelOverlap": false, "labelOpacity": {"condition": {"test": "datum.value % 3 === 0 && datum.value > 0", "value": 1}, "value": 0}, "tickSize": {"condition": {"test": "datum.value % 3 === 0", "value": 14}, "value": 7}, "tickWidth": {"condition": {"test": "datum.value % 3 === 0", "value": 2.5}, "value": 1.8}}},
                      "y": {"field": "v2", "type": "quantitative", "scale": {"domain": [0, 160], "nice": false}, "axis": {"values": [0,20,40,60,80,100,120,140,160], "tickCount": 10, "title": "MW", "labelOverlap": false, "labelOpacity": {"condition": {"test": "datum.value > 0", "value": 1}, "value": 0}}},
                      "angle": {"field": "angle", "type": "quantitative", "scale": null},
                      "color": {"field": "kind", "type": "nominal", "legend": null, "scale": {"domain": ["Defizit", "Überschuss", "Prognose", "Einkauf", "Verkauf", "ELBAS"], "range": ["#FF1A1A", "#22EE22", "#808080", "#1A8C1A", "#FF7722", "#1F3FE8"]}}}},
        {"data": {"name": "notes"}, "transform": [{"filter": "datum.panel === 'c'"}],
         "mark": {"type": "text", "font": "Liberation Sans", "fontSize": 19, "lineHeight": 23, "lineBreak": "\n", "align": "center", "baseline": "middle", "color": "#111"},
         "encoding": {"x": {"field": "h", "type": "quantitative", "scale": {"domain": [0, 24], "nice": false, "zero": false}, "axis": {"values": [0,1,2,3,4,5,6,7,8,9,10,11,12,13,14,15,16,17,18,19,20,21,22,23,24], "tickCount": 25, "title": "Stunden", "labelOverlap": false, "labelOpacity": {"condition": {"test": "datum.value % 3 === 0 && datum.value > 0", "value": 1}, "value": 0}, "tickSize": {"condition": {"test": "datum.value % 3 === 0", "value": 14}, "value": 7}, "tickWidth": {"condition": {"test": "datum.value % 3 === 0", "value": 2.5}, "value": 1.8}}},
                      "y": {"field": "v", "type": "quantitative", "scale": {"domain": [0, 160], "nice": false}, "axis": {"values": [0,20,40,60,80,100,120,140,160], "tickCount": 10, "title": "MW", "labelOverlap": false, "labelOpacity": {"condition": {"test": "datum.value > 0", "value": 1}, "value": 0}}}, "text": {"field": "text"}}},
        {"data": {"values": [{"label": "(c)"}]},
         "mark": {"type": "text", "font": "Liberation Sans", "fontSize": 25, "fontWeight": "bold", "dx": -40, "dy": 30, "align": "center", "baseline": "middle", "color": "#000"},
         "encoding": {"x": {"datum": 0, "type": "quantitative", "scale": {"domain": [0, 24], "nice": false, "zero": false}, "axis": {"values": [0,1,2,3,4,5,6,7,8,9,10,11,12,13,14,15,16,17,18,19,20,21,22,23,24], "tickCount": 25, "title": "Stunden", "labelOverlap": false, "labelOpacity": {"condition": {"test": "datum.value % 3 === 0 && datum.value > 0", "value": 1}, "value": 0}, "tickSize": {"condition": {"test": "datum.value % 3 === 0", "value": 14}, "value": 7}, "tickWidth": {"condition": {"test": "datum.value % 3 === 0", "value": 2.5}, "value": 1.8}}},
                      "y": {"datum": 0, "type": "quantitative", "scale": {"domain": [0, 160], "nice": false}, "axis": {"values": [0,20,40,60,80,100,120,140,160], "tickCount": 10, "title": "MW", "labelOverlap": false, "labelOpacity": {"condition": {"test": "datum.value > 0", "value": 1}, "value": 0}}}, "text": {"field": "label"}}}
      ]
    },
    {
      "width": 474, "height": 368,
      "layer": [
        {"data": {"name": "base"}, "mark": {"type": "rect", "fill": "#33CCFF"},
         "encoding": {
           "x": {"field": "x0", "type": "quantitative", "scale": {"domain": [0, 24], "nice": false, "zero": false}, "axis": {"values": [0,1,2,3,4,5,6,7,8,9,10,11,12,13,14,15,16,17,18,19,20,21,22,23,24], "tickCount": 25, "title": "Stunden", "labelOverlap": false, "labelOpacity": {"condition": {"test": "datum.value % 3 === 0 && datum.value > 0", "value": 1}, "value": 0}, "tickSize": {"condition": {"test": "datum.value % 3 === 0", "value": 14}, "value": 7}, "tickWidth": {"condition": {"test": "datum.value % 3 === 0", "value": 2.5}, "value": 1.8}}},
           "x2": {"field": "x1"},
           "y": {"field": "level", "type": "quantitative", "scale": {"domain": [0, 160], "nice": false}, "axis": {"values": [0,20,40,60,80,100,120,140,160], "tickCount": 10, "title": "MW", "labelOverlap": false, "labelOpacity": {"condition": {"test": "datum.value > 0", "value": 1}, "value": 0}}},
           "y2": {"datum": 0}}},
        {"data": {"name": "base"}, "mark": {"type": "rule", "color": "#3D8EDB", "strokeWidth": 1.5},
         "encoding": {"x": {"field": "x0", "type": "quantitative", "scale": {"domain": [0, 24], "nice": false, "zero": false}, "axis": {"values": [0,1,2,3,4,5,6,7,8,9,10,11,12,13,14,15,16,17,18,19,20,21,22,23,24], "tickCount": 25, "title": "Stunden", "labelOverlap": false, "labelOpacity": {"condition": {"test": "datum.value % 3 === 0 && datum.value > 0", "value": 1}, "value": 0}, "tickSize": {"condition": {"test": "datum.value % 3 === 0", "value": 14}, "value": 7}, "tickWidth": {"condition": {"test": "datum.value % 3 === 0", "value": 2.5}, "value": 1.8}}}, "x2": {"field": "x1"},
                      "y": {"field": "level", "type": "quantitative", "scale": {"domain": [0, 160], "nice": false}, "axis": {"values": [0,20,40,60,80,100,120,140,160], "tickCount": 10, "title": "MW", "labelOverlap": false, "labelOpacity": {"condition": {"test": "datum.value > 0", "value": 1}, "value": 0}}}}},
        {"data": {"name": "hourly"}, "transform": [{"filter": "datum.orig !== 66.5"}], "mark": {"type": "rect", "strokeWidth": 1},
         "encoding": {"x": {"field": "h", "type": "quantitative", "scale": {"domain": [0, 24], "nice": false, "zero": false}, "axis": {"values": [0,1,2,3,4,5,6,7,8,9,10,11,12,13,14,15,16,17,18,19,20,21,22,23,24], "tickCount": 25, "title": "Stunden", "labelOverlap": false, "labelOpacity": {"condition": {"test": "datum.value % 3 === 0 && datum.value > 0", "value": 1}, "value": 0}, "tickSize": {"condition": {"test": "datum.value % 3 === 0", "value": 14}, "value": 7}, "tickWidth": {"condition": {"test": "datum.value % 3 === 0", "value": 2.5}, "value": 1.8}}}, "x2": {"field": "h1"},
                      "y": {"field": "orig", "type": "quantitative", "scale": {"domain": [0, 160], "nice": false}, "axis": {"values": [0,20,40,60,80,100,120,140,160], "tickCount": 10, "title": "MW", "labelOverlap": false, "labelOpacity": {"condition": {"test": "datum.value > 0", "value": 1}, "value": 0}}}, "y2": {"datum": 66.5},
                      "fill": {"condition": {"test": "datum.orig < 66.5", "value": "#FFCC00"}, "value": "#99FF33"},
                      "stroke": {"condition": {"test": "datum.orig < 66.5", "value": "#F5A05A"}, "value": "#5CCB3A"}}},
        {"data": {"name": "hourly"}, "transform": [{"filter": "datum.upd < datum.orig"}], "mark": {"type": "rect", "fill": "#FF9933", "stroke": "#E8782A", "strokeWidth": 1},
         "encoding": {"x": {"field": "h", "type": "quantitative", "scale": {"domain": [0, 24], "nice": false, "zero": false}, "axis": {"values": [0,1,2,3,4,5,6,7,8,9,10,11,12,13,14,15,16,17,18,19,20,21,22,23,24], "tickCount": 25, "title": "Stunden", "labelOverlap": false, "labelOpacity": {"condition": {"test": "datum.value % 3 === 0 && datum.value > 0", "value": 1}, "value": 0}, "tickSize": {"condition": {"test": "datum.value % 3 === 0", "value": 14}, "value": 7}, "tickWidth": {"condition": {"test": "datum.value % 3 === 0", "value": 2.5}, "value": 1.8}}}, "x2": {"field": "h1"},
                      "y": {"field": "upd", "type": "quantitative", "scale": {"domain": [0, 160], "nice": false}, "axis": {"values": [0,20,40,60,80,100,120,140,160], "tickCount": 10, "title": "MW", "labelOverlap": false, "labelOpacity": {"condition": {"test": "datum.value > 0", "value": 1}, "value": 0}}}, "y2": {"field": "orig"}}},
        {"data": {"name": "hourly"}, "transform": [{"filter": "datum.upd > datum.orig"}], "mark": {"type": "rect", "fill": "#33CC33", "stroke": "#1E9E1E", "strokeWidth": 1},
         "encoding": {"x": {"field": "h", "type": "quantitative", "scale": {"domain": [0, 24], "nice": false, "zero": false}, "axis": {"values": [0,1,2,3,4,5,6,7,8,9,10,11,12,13,14,15,16,17,18,19,20,21,22,23,24], "tickCount": 25, "title": "Stunden", "labelOverlap": false, "labelOpacity": {"condition": {"test": "datum.value % 3 === 0 && datum.value > 0", "value": 1}, "value": 0}, "tickSize": {"condition": {"test": "datum.value % 3 === 0", "value": 14}, "value": 7}, "tickWidth": {"condition": {"test": "datum.value % 3 === 0", "value": 2.5}, "value": 1.8}}}, "x2": {"field": "h1"},
                      "y": {"field": "orig", "type": "quantitative", "scale": {"domain": [0, 160], "nice": false}, "axis": {"values": [0,20,40,60,80,100,120,140,160], "tickCount": 10, "title": "MW", "labelOverlap": false, "labelOpacity": {"condition": {"test": "datum.value > 0", "value": 1}, "value": 0}}}, "y2": {"field": "upd"}}},
        {"data": {"name": "curve"}, "mark": {"type": "line", "color": "#800000", "strokeWidth": 2.6, "interpolate": "monotone"},
         "encoding": {"x": {"field": "h", "type": "quantitative", "scale": {"domain": [0, 24], "nice": false, "zero": false}, "axis": {"values": [0,1,2,3,4,5,6,7,8,9,10,11,12,13,14,15,16,17,18,19,20,21,22,23,24], "tickCount": 25, "title": "Stunden", "labelOverlap": false, "labelOpacity": {"condition": {"test": "datum.value % 3 === 0 && datum.value > 0", "value": 1}, "value": 0}, "tickSize": {"condition": {"test": "datum.value % 3 === 0", "value": 14}, "value": 7}, "tickWidth": {"condition": {"test": "datum.value % 3 === 0", "value": 2.5}, "value": 1.8}}},
                      "y": {"field": "orig", "type": "quantitative", "scale": {"domain": [0, 160], "nice": false}, "axis": {"values": [0,20,40,60,80,100,120,140,160], "tickCount": 10, "title": "MW", "labelOverlap": false, "labelOpacity": {"condition": {"test": "datum.value > 0", "value": 1}, "value": 0}}}}},
        {"data": {"name": "curve"}, "mark": {"type": "line", "color": "#FF0000", "strokeWidth": 2.6, "interpolate": "monotone"},
         "encoding": {"x": {"field": "h", "type": "quantitative", "scale": {"domain": [0, 24], "nice": false, "zero": false}, "axis": {"values": [0,1,2,3,4,5,6,7,8,9,10,11,12,13,14,15,16,17,18,19,20,21,22,23,24], "tickCount": 25, "title": "Stunden", "labelOverlap": false, "labelOpacity": {"condition": {"test": "datum.value % 3 === 0 && datum.value > 0", "value": 1}, "value": 0}, "tickSize": {"condition": {"test": "datum.value % 3 === 0", "value": 14}, "value": 7}, "tickWidth": {"condition": {"test": "datum.value % 3 === 0", "value": 2.5}, "value": 1.8}}},
                      "y": {"field": "upd", "type": "quantitative", "scale": {"domain": [0, 160], "nice": false}, "axis": {"values": [0,20,40,60,80,100,120,140,160], "tickCount": 10, "title": "MW", "labelOverlap": false, "labelOpacity": {"condition": {"test": "datum.value > 0", "value": 1}, "value": 0}}}}},
        {"data": {"name": "arrows"}, "transform": [{"filter": "datum.panel === 'd'"}], "mark": {"type": "rule", "strokeWidth": 1.3},
         "encoding": {"x": {"field": "h1", "type": "quantitative", "scale": {"domain": [0, 24], "nice": false, "zero": false}, "axis": {"values": [0,1,2,3,4,5,6,7,8,9,10,11,12,13,14,15,16,17,18,19,20,21,22,23,24], "tickCount": 25, "title": "Stunden", "labelOverlap": false, "labelOpacity": {"condition": {"test": "datum.value % 3 === 0 && datum.value > 0", "value": 1}, "value": 0}, "tickSize": {"condition": {"test": "datum.value % 3 === 0", "value": 14}, "value": 7}, "tickWidth": {"condition": {"test": "datum.value % 3 === 0", "value": 2.5}, "value": 1.8}}}, "x2": {"field": "h2"},
                      "y": {"field": "v1", "type": "quantitative", "scale": {"domain": [0, 160], "nice": false}, "axis": {"values": [0,20,40,60,80,100,120,140,160], "tickCount": 10, "title": "MW", "labelOverlap": false, "labelOpacity": {"condition": {"test": "datum.value > 0", "value": 1}, "value": 0}}}, "y2": {"field": "v2"},
                      "color": {"field": "kind", "type": "nominal", "legend": null, "scale": {"domain": ["Defizit", "Überschuss", "Prognose", "Einkauf", "Verkauf", "ELBAS"], "range": ["#FF1A1A", "#22EE22", "#808080", "#1A8C1A", "#FF7722", "#1F3FE8"]}}}},
        {"data": {"name": "arrows"}, "transform": [{"filter": "datum.panel === 'd'"}, {"calculate": "atan2((datum.h2 - datum.h1) * 19.75, (datum.v2 - datum.v1) * 2.3) * 180 / PI", "as": "angle"}],
         "mark": {"type": "point", "shape": "M0,0L-0.38,1L0.38,1Z", "filled": true, "size": 300, "opacity": 1},
         "encoding": {"x": {"field": "h2", "type": "quantitative", "scale": {"domain": [0, 24], "nice": false, "zero": false}, "axis": {"values": [0,1,2,3,4,5,6,7,8,9,10,11,12,13,14,15,16,17,18,19,20,21,22,23,24], "tickCount": 25, "title": "Stunden", "labelOverlap": false, "labelOpacity": {"condition": {"test": "datum.value % 3 === 0 && datum.value > 0", "value": 1}, "value": 0}, "tickSize": {"condition": {"test": "datum.value % 3 === 0", "value": 14}, "value": 7}, "tickWidth": {"condition": {"test": "datum.value % 3 === 0", "value": 2.5}, "value": 1.8}}},
                      "y": {"field": "v2", "type": "quantitative", "scale": {"domain": [0, 160], "nice": false}, "axis": {"values": [0,20,40,60,80,100,120,140,160], "tickCount": 10, "title": "MW", "labelOverlap": false, "labelOpacity": {"condition": {"test": "datum.value > 0", "value": 1}, "value": 0}}},
                      "angle": {"field": "angle", "type": "quantitative", "scale": null},
                      "color": {"field": "kind", "type": "nominal", "legend": null, "scale": {"domain": ["Defizit", "Überschuss", "Prognose", "Einkauf", "Verkauf", "ELBAS"], "range": ["#FF1A1A", "#22EE22", "#808080", "#1A8C1A", "#FF7722", "#1F3FE8"]}}}},
        {"data": {"name": "notes"}, "transform": [{"filter": "datum.panel === 'd'"}],
         "mark": {"type": "text", "font": "Liberation Sans", "fontSize": 19, "lineHeight": 23, "lineBreak": "\n", "align": "center", "baseline": "middle", "color": "#111"},
         "encoding": {"x": {"field": "h", "type": "quantitative", "scale": {"domain": [0, 24], "nice": false, "zero": false}, "axis": {"values": [0,1,2,3,4,5,6,7,8,9,10,11,12,13,14,15,16,17,18,19,20,21,22,23,24], "tickCount": 25, "title": "Stunden", "labelOverlap": false, "labelOpacity": {"condition": {"test": "datum.value % 3 === 0 && datum.value > 0", "value": 1}, "value": 0}, "tickSize": {"condition": {"test": "datum.value % 3 === 0", "value": 14}, "value": 7}, "tickWidth": {"condition": {"test": "datum.value % 3 === 0", "value": 2.5}, "value": 1.8}}},
                      "y": {"field": "v", "type": "quantitative", "scale": {"domain": [0, 160], "nice": false}, "axis": {"values": [0,20,40,60,80,100,120,140,160], "tickCount": 10, "title": "MW", "labelOverlap": false, "labelOpacity": {"condition": {"test": "datum.value > 0", "value": 1}, "value": 0}}}, "text": {"field": "text"}}},
        {"data": {"values": [{"label": "(d)"}]},
         "mark": {"type": "text", "font": "Liberation Sans", "fontSize": 25, "fontWeight": "bold", "dx": -40, "dy": 30, "align": "center", "baseline": "middle", "color": "#000"},
         "encoding": {"x": {"datum": 0, "type": "quantitative", "scale": {"domain": [0, 24], "nice": false, "zero": false}, "axis": {"values": [0,1,2,3,4,5,6,7,8,9,10,11,12,13,14,15,16,17,18,19,20,21,22,23,24], "tickCount": 25, "title": "Stunden", "labelOverlap": false, "labelOpacity": {"condition": {"test": "datum.value % 3 === 0 && datum.value > 0", "value": 1}, "value": 0}, "tickSize": {"condition": {"test": "datum.value % 3 === 0", "value": 14}, "value": 7}, "tickWidth": {"condition": {"test": "datum.value % 3 === 0", "value": 2.5}, "value": 1.8}}},
                      "y": {"datum": 0, "type": "quantitative", "scale": {"domain": [0, 160], "nice": false}, "axis": {"values": [0,20,40,60,80,100,120,140,160], "tickCount": 10, "title": "MW", "labelOverlap": false, "labelOpacity": {"condition": {"test": "datum.value > 0", "value": 1}, "value": 0}}}, "text": {"field": "label"}}}
      ]
    }
  ]
}
